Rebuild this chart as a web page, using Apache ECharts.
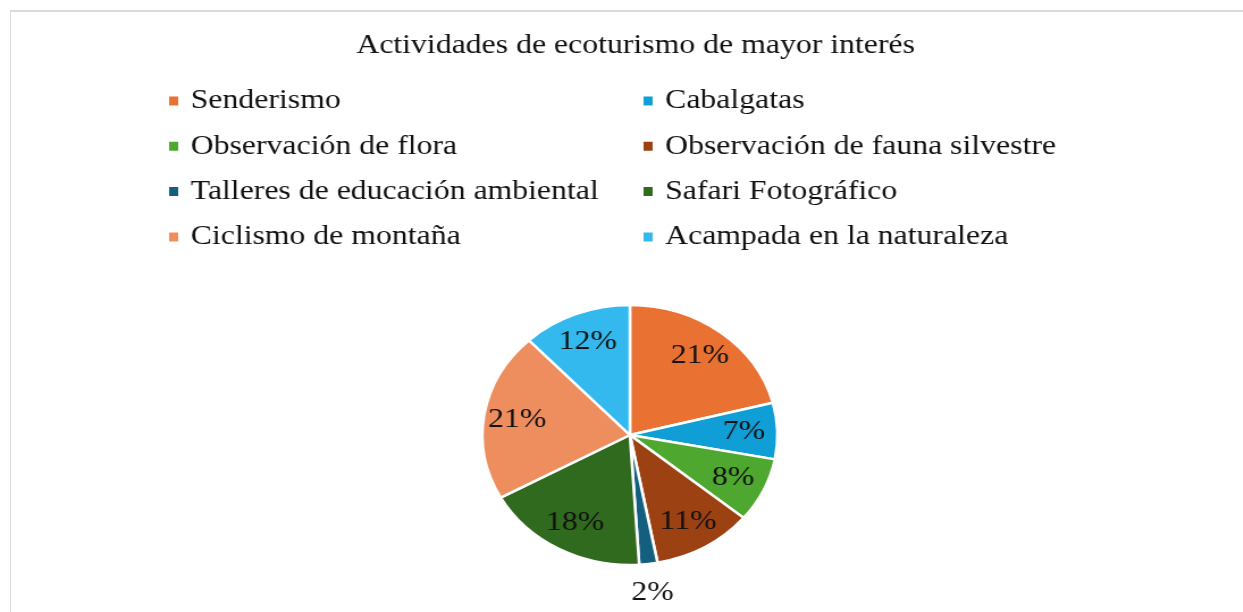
<!DOCTYPE html>
<html>
<head>
<meta charset="utf-8">
<title>Actividades de ecoturismo de mayor interés</title>
<script src="https://cdn.jsdelivr.net/npm/echarts@6/dist/echarts.min.js"></script>
<style>
  html, body { margin: 0; padding: 0; background: #fff; overflow: hidden; }
  #frame {
    position: absolute; left: 10px; top: 10px; width: 1233px; height: 602px;
    border-top: 2px solid #dadada; border-left: 1px solid #dadada;
  }
  /* the source picture is stretched sideways, so the chart is too */
  #chart {
    position: absolute; left: 0; top: 0; width: 1095px; height: 612px;
    transform: scaleX(1.135); transform-origin: 0 0;
  }
</style>
</head>
<body>
<div id="frame"></div>
<div id="chart"></div>
<script>
// data
var categories = [
  'Senderismo',
  'Cabalgatas',
  'Observación de flora',
  'Observación de fauna silvestre',
  'Talleres de educación ambiental',
  'Safari Fotográfico',
  'Ciclismo de montaña',
  'Acampada en la naturaleza'
]
var shares = [21, 7, 8, 11, 2, 18, 21, 12]
var colors = ['#E97132', '#0F9ED5', '#4EA72E', '#9B4112', '#145F80', '#306A1F', '#EE8E5E', '#33B9EE']
// legend columns as laid out in the picture
var legendLeft = ['Senderismo', 'Observación de flora', 'Talleres de educación ambiental', 'Ciclismo de montaña']
var legendRight = ['Cabalgatas', 'Observación de fauna silvestre', 'Safari Fotográfico', 'Acampada en la naturaleza']

var serif = '"Liberation Serif", "Times New Roman", serif'
var center = [555, 435]
var R = 130

var chart = echarts.init(document.getElementById('chart'), null, { renderer: 'canvas' })

var legendBase = {
  orient: 'vertical',
  top: 85,
  padding: 0,
  itemWidth: 10,
  itemHeight: 11,
  itemGap: 13.3,
  icon: 'rect',
  selectedMode: false,
  textStyle: {
    fontFamily: serif,
    fontSize: 28,
    color: '#111',
    lineHeight: 32,
    padding: [0, 0, 0, 5]
  }
}

var labelStyle = {
  fontFamily: serif,
  fontSize: 28,
  color: '#111',
  formatter: '{c}%'
}

chart.setOption({
  animation: false,
  color: colors,
  title: {
    text: 'Actividades de ecoturismo de mayor interés',
    left: 555,
    top: 26,
    textAlign: 'center',
    textStyle: {
      fontFamily: serif,
      fontSize: 28,
      fontWeight: 'normal',
      color: '#111',
      lineHeight: 30
    }
  },
  legend: [
    Object.assign({}, legendBase, { left: 147, data: legendLeft }),
    Object.assign({}, legendBase, { left: 565, data: legendRight })
  ],
  series: [
    {
      // the slices
      type: 'pie',
      center: center,
      radius: R,
      startAngle: 90,
      clockwise: true,
      silent: true,
      label: { show: false },
      labelLine: { show: false },
      itemStyle: { borderColor: '#fff', borderWidth: 2.5 },
      data: categories.map(function (n, i) {
        return { name: n, value: shares[i] }
      })
    },
    {
      // labels inside the slices, pushed out to about 3/4 of the radius
      type: 'pie',
      center: center,
      radius: [0, R * 1.5],
      startAngle: 90,
      clockwise: true,
      silent: true,
      avoidLabelOverlap: false,
      itemStyle: { color: 'rgba(0,0,0,0)', borderWidth: 0 },
      label: Object.assign({ show: true, position: 'inside' }, labelStyle),
      labelLine: { show: false },
      data: categories.map(function (n, i) {
        return { name: n, value: shares[i], label: { show: shares[i] > 2 } }
      })
    },
    {
      // the small slice keeps its label just outside the pie
      type: 'pie',
      center: center,
      radius: [R, R + 52],
      startAngle: 90,
      clockwise: true,
      silent: true,
      avoidLabelOverlap: false,
      itemStyle: { color: 'rgba(0,0,0,0)', borderWidth: 0 },
      label: Object.assign({ show: true, position: 'inside' }, labelStyle),
      labelLine: { show: false },
      data: categories.map(function (n, i) {
        return { name: n, value: shares[i], label: { show: shares[i] <= 2 } }
      })
    }
  ]
})
</script>
</body>
</html>
